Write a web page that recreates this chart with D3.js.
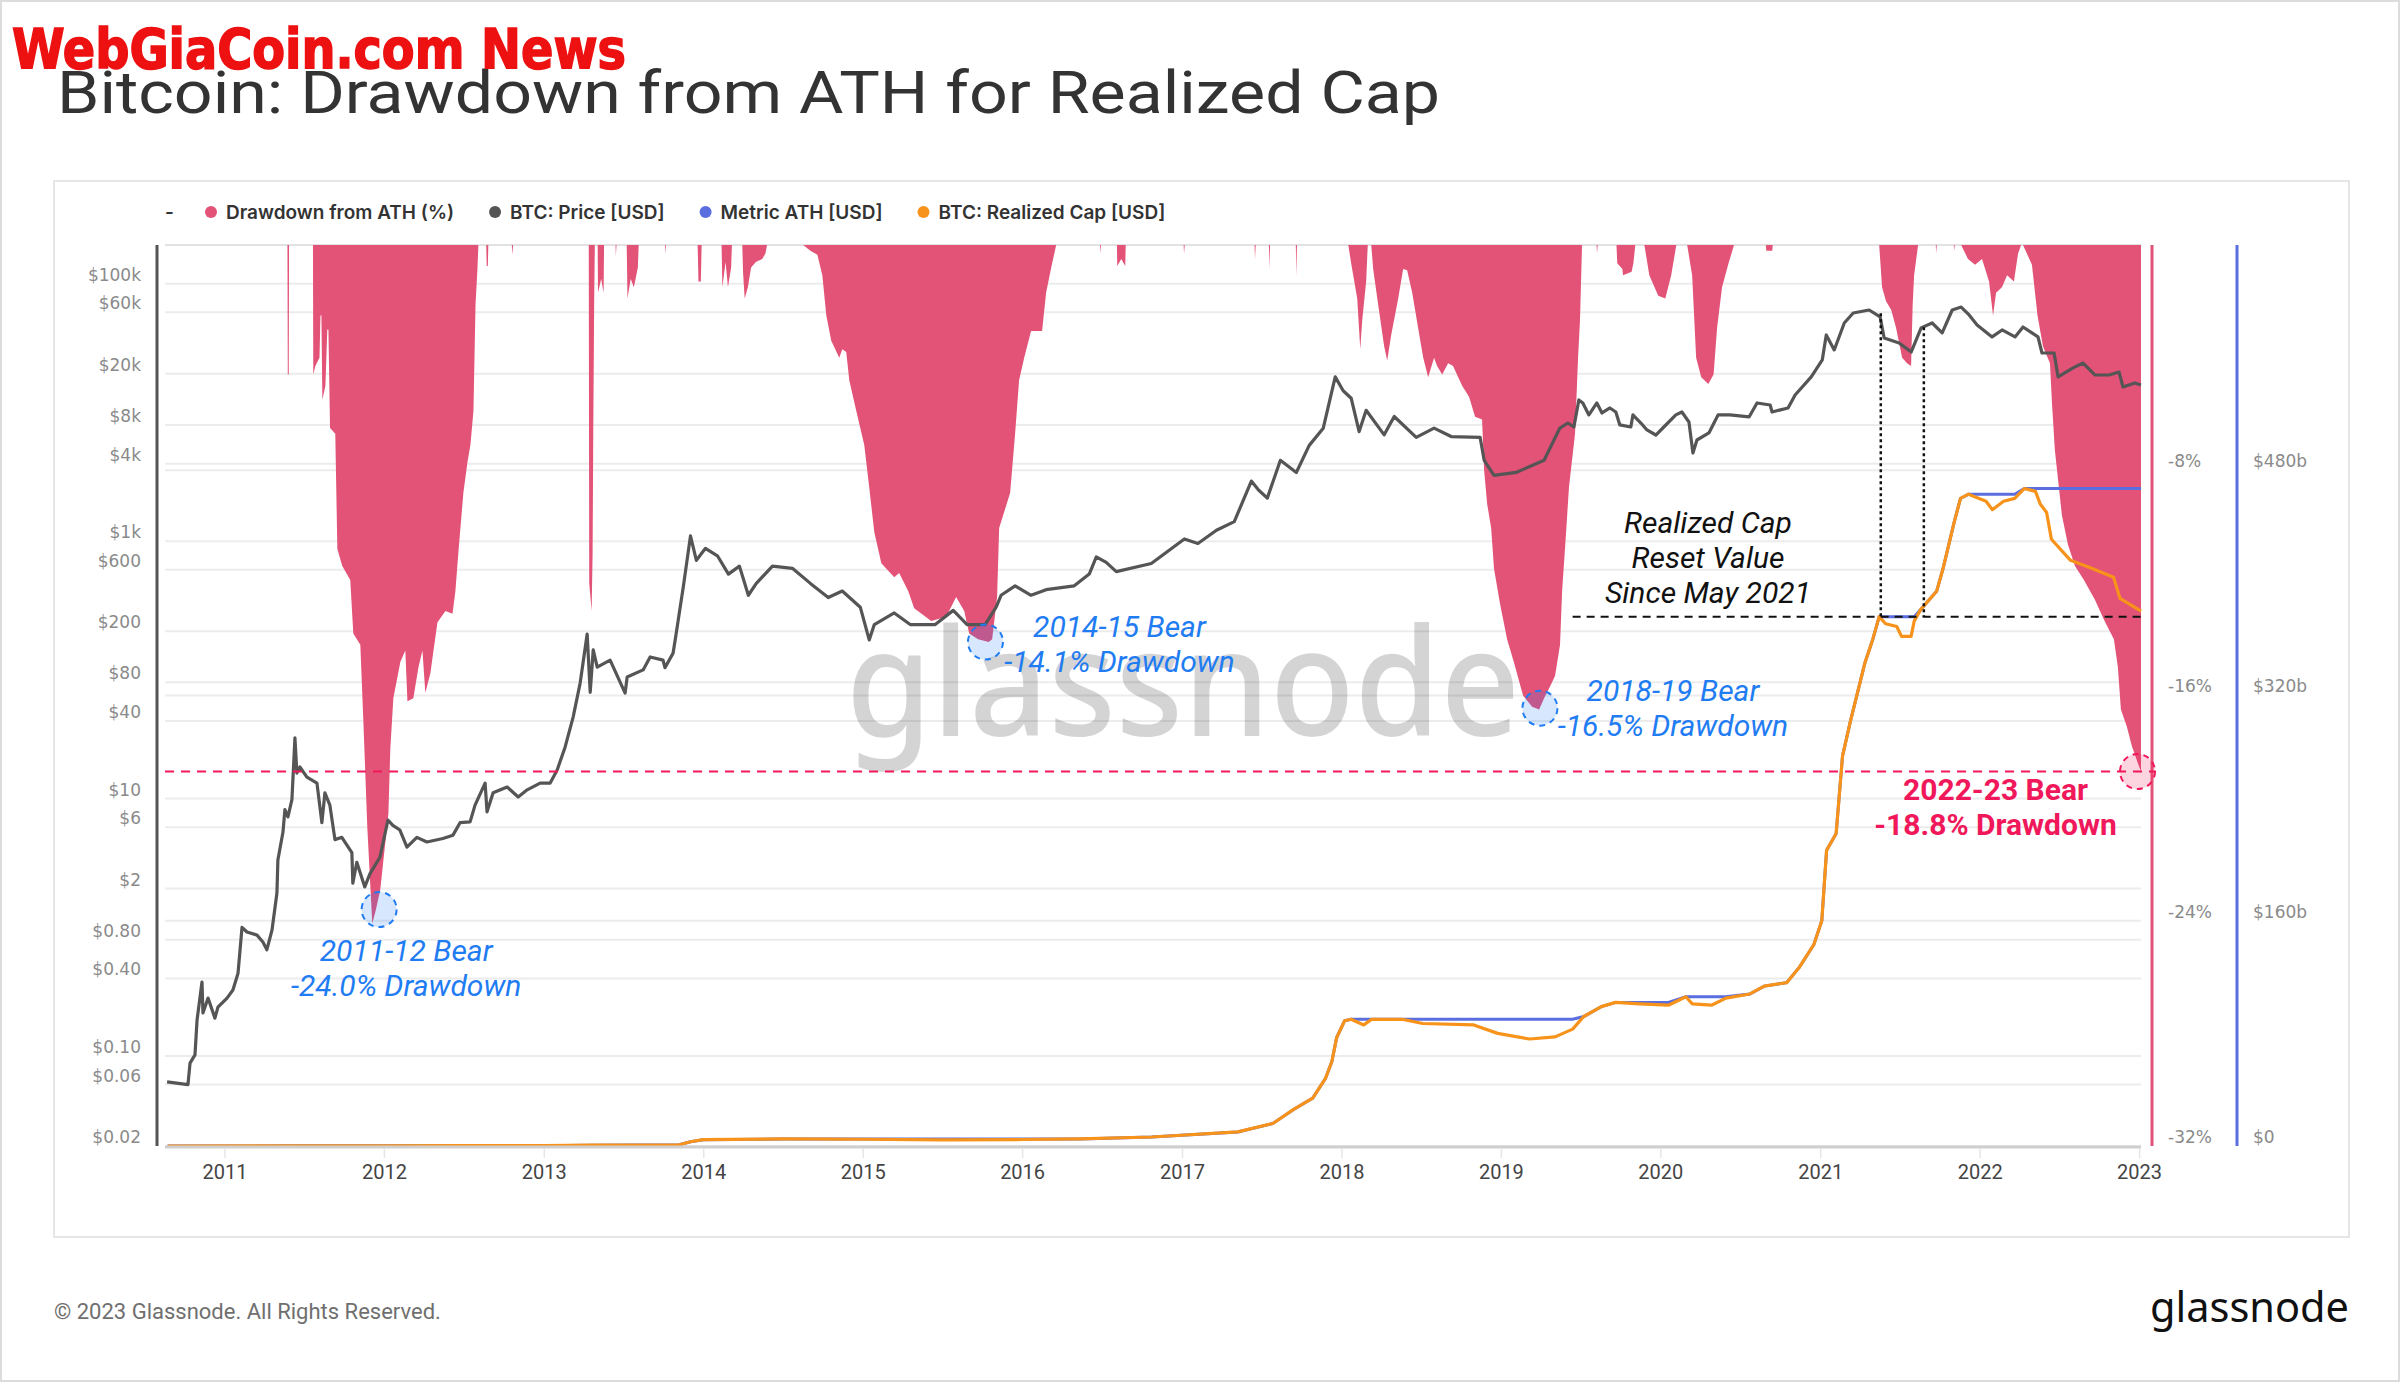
<!DOCTYPE html>
<html>
<head>
<meta charset="utf-8">
<script src="https://cdn.jsdelivr.net/npm/d3@7"></script>
<style>
  html,body{margin:0;padding:0;background:#fff;}
  svg{display:block;}
</style>
</head>
<body>
<svg id="chart" width="2400" height="1382"></svg>
<script>
// ---------------- DATA ----------------
const xTickYears = [2011,2012,2013,2014,2015,2016,2017,2018,2019,2020,2021,2022,2023];
const priceTicks = [100000,60000,20000,8000,4000,1000,600,200,80,40,10,6,2,0.8,0.4,0.1,0.06,0.02];
const priceTickLabels = ["$100k","$60k","$20k","$8k","$4k","$1k","$600","$200","$80","$40","$10","$6","$2","$0.80","$0.40","$0.10","$0.06","$0.02"];
const drawdownTicks = [-8,-16,-24,-32];
const drawdownTickLabels = ["-8%","-16%","-24%","-32%"];
const capTicks = [480,320,160,0];
const capTickLabels = ["$480b","$320b","$160b","$0"];
const legendLabels = ["Drawdown from ATH (%)","BTC: Price [USD]","Metric ATH [USD]","BTC: Realized Cap [USD]"];

// BTC price [decimal year, USD]
const priceSeries = [
[2010.640,0.063],[2010.771,0.060],[2010.784,0.088],[2010.815,0.102],[2010.828,0.19],[2010.859,0.376],[2010.865,0.216],
[2010.897,0.282],[2010.940,0.197],[2010.959,0.240],[2011.016,0.282],[2011.053,0.326],[2011.085,0.44],[2011.110,1.0],
[2011.141,0.92],[2011.204,0.87],[2011.241,0.77],[2011.266,0.67],[2011.298,0.95],[2011.329,1.85],[2011.335,3.33],
[2011.367,5.5],[2011.379,8.2],[2011.398,7.2],[2011.423,9.8],[2011.442,29.6],[2011.454,15.8],[2011.473,17.6],
[2011.517,14.7],[2011.580,13.2],[2011.611,6.5],[2011.630,11.1],[2011.661,8.9],[2011.693,4.8],[2011.736,5.0],
[2011.799,3.8],[2011.805,2.2],[2011.830,3.2],[2011.880,2.06],[2011.912,2.6],[2011.975,3.5],[2012.025,6.8],
[2012.056,6.2],[2012.100,5.7],[2012.144,4.2],[2012.206,5.0],[2012.269,4.6],[2012.369,4.9],[2012.432,5.2],
[2012.476,6.5],[2012.539,6.6],[2012.570,8.9],[2012.633,13.2],[2012.645,7.9],[2012.683,11.1],[2012.771,12.3],
[2012.840,10.3],[2012.896,11.7],[2012.977,13.2],[2013.040,13.2],[2013.084,16.7],[2013.134,25.2],[2013.184,43],
[2013.228,79],[2013.272,190],[2013.291,67],[2013.310,143],[2013.335,105],[2013.416,119],[2013.510,66],
[2013.523,88],[2013.623,100],[2013.667,126],[2013.748,119],[2013.760,104],[2013.811,135],[2013.826,177],
[2013.876,450],[2013.920,1100],[2013.957,710],[2014.014,880],
[2014.089,770],[2014.158,555],[2014.227,640],[2014.283,380],[2014.333,470],[2014.434,640],[2014.559,615],
[2014.672,470],[2014.784,365],[2014.872,410],[2014.985,307],[2015.041,171],[2015.073,225],[2015.198,277],
[2015.298,225],[2015.455,225],[2015.568,290],[2015.655,225],[2015.768,225],[2015.837,307],[2015.868,380],
[2015.956,450],[2016.056,380],[2016.150,420],[2016.326,450],[2016.420,555],[2016.464,755],[2016.526,685],
[2016.589,580],[2016.808,670],[2017.015,1040],[2017.100,960],[2017.216,1215],[2017.328,1420],[2017.435,2930],
[2017.480,2500],[2017.535,2160],
[2017.617,4250],[2017.717,3420],[2017.798,5550],[2017.886,7550],[2017.961,18900],[2018.011,14750],
[2018.061,12900],[2018.111,7100],[2018.155,10400],[2018.268,6700],[2018.331,9300],[2018.469,6400],
[2018.581,7550],[2018.688,6500],[2018.870,6400],[2018.895,4250],[2018.957,3250],[2019.095,3420],
[2019.271,4250],
[2019.370,7570],[2019.420,8280],[2019.458,7710],[2019.489,12500],[2019.514,11850],[2019.552,9570],[2019.602,11850],
[2019.634,9910],[2019.684,10840],[2019.721,10090],[2019.746,8000],[2019.815,7710],[2019.828,9570],[2019.878,8280],
[2019.916,7310],[2019.972,6680],[2020.022,7710],[2020.097,9570],[2020.135,10090],[2020.179,8430],[2020.204,4840],
[2020.229,6110],[2020.304,6930],[2020.361,9570],[2020.436,9570],[2020.555,9230],[2020.605,11850],[2020.687,11430],
[2020.699,10090],[2020.799,10840],[2020.843,13670],[2020.944,18880],[2021.013,25590],[2021.038,40000],
[2021.088,30600],[2021.151,49550],[2021.207,59290],[2021.307,62520],[2021.376,55200],[2021.401,37930],
[2021.495,34670],[2021.571,29510],[2021.633,45390],[2021.702,49550],[2021.765,41500],[2021.828,62520],
[2021.884,65920],[2021.934,57280],[2021.984,47860],[2022.078,38630],[2022.141,43750],[2022.222,38630],
[2022.272,46130],[2022.366,38630],[2022.391,28970],[2022.467,28970],[2022.492,18880],[2022.586,22180],
[2022.649,24210],[2022.724,19540],[2022.812,19540],[2022.874,20610],[2022.899,15780],[2022.974,16950],
[2023.012,16370]
];

// BTC realized cap [decimal year, $ billions]
const realizedCapSeries = [
[2010.643,0.0],[2011.45,0.1],[2012.0,0.15],[2012.5,0.2],[2013.0,0.25],[2013.3,0.6],[2013.85,0.9],[2013.92,3.0],
[2014.0,4.5],[2014.5,5.0],[2015.0,4.8],[2015.5,4.3],[2016.0,4.6],[2016.36,5.0],[2016.81,6.4],[2017.35,10],
[2017.57,16],[2017.70,26],[2017.82,34],[2017.90,48],[2017.94,60],[2017.97,77],[2018.02,89],[2018.06,90],
[2018.14,86],[2018.19,90],[2018.38,90],[2018.51,87],[2018.83,86],[2018.98,80],[2019.18,76],[2019.34,77.5],
[2019.45,83],[2019.52,92],[2019.63,99],[2019.72,102],[2019.87,101],[2020.05,100],[2020.16,106],[2020.20,101],
[2020.32,100],[2020.41,105],[2020.56,108],[2020.65,113.6],[2020.79,116],[2020.87,127],[2020.96,143],
[2021.01,160],[2021.04,210],[2021.10,222],[2021.14,277],[2021.19,302],[2021.28,343],[2021.33,360],
[2021.37,376],[2021.41,371],[2021.48,369],[2021.51,362],[2021.57,362],[2021.59,373],[2021.63,381],
[2021.73,394],[2021.77,410],[2021.84,443],[2021.88,460],[2021.93,463],[2022.04,458],[2022.08,452],
[2022.15,458],[2022.22,460],[2022.28,467],[2022.35,465],[2022.38,456],[2022.42,450],[2022.45,431],
[2022.57,416],[2022.71,410],[2022.84,404],[2022.88,389],[2023.012,380]
];

// Drawdown from ATH of realized cap [decimal year, %]
const drawdownSeries = [
[2010.627,0],
[2011.395,0],[2011.397,-4.6],[2011.403,-4.6],[2011.405,0],
[2011.555,0],[2011.557,-4.6],[2011.570,-4.3],[2011.596,-4.0],[2011.602,-2.5],[2011.608,-2.5],[2011.614,-5.5],
[2011.633,-5.0],[2011.645,-3.0],[2011.652,-3.0],[2011.662,-6.5],[2011.695,-6.7],[2011.708,-10.8],[2011.739,-11.4],
[2011.789,-11.9],[2011.808,-13.8],[2011.852,-14.2],[2011.871,-16.9],[2011.896,-20.7],[2011.927,-24.1],
[2011.950,-23.6],[2011.977,-22.9],[2012.028,-20.2],[2012.040,-17.9],[2012.059,-16.1],[2012.103,-14.8],
[2012.134,-14.4],[2012.147,-16.2],[2012.184,-16.1],[2012.216,-15.0],[2012.241,-14.4],[2012.259,-15.9],
[2012.291,-15.2],[2012.310,-14.4],[2012.335,-13.4],[2012.385,-13.0],[2012.429,-13.1],[2012.447,-12.3],
[2012.466,-10.9],[2012.497,-8.8],[2012.523,-7.7],[2012.541,-7.1],[2012.560,-5.9],[2012.573,-2.1],
[2012.585,-0.85],[2012.591,0],
[2012.640,0],[2012.643,-0.75],[2012.650,-0.75],[2012.653,0],
[2012.800,0],[2012.803,-0.35],[2012.808,0],
[2013.282,0],[2013.285,-12.0],[2013.300,-13.0],[2013.306,-11.0],[2013.310,-6.9],[2013.316,-2.0],[2013.320,0],
[2013.338,0],[2013.340,-1.7],[2013.360,-1.2],[2013.375,-1.7],[2013.378,0],
[2013.450,0],[2013.452,-0.4],[2013.456,0],
[2013.520,0],[2013.525,-1.9],[2013.545,-1.2],[2013.565,-1.5],[2013.590,-0.8],[2013.595,0],
[2013.760,0],[2013.762,-0.3],[2013.766,0],
[2013.965,0],[2013.970,-1.3],[2013.985,-1.3],[2013.990,0],
[2014.115,0],[2014.120,-1.5],[2014.140,-0.6],[2014.155,-1.5],[2014.175,-0.8],[2014.180,0],
[2014.245,0],[2014.250,-1.0],[2014.260,-1.9],[2014.280,-1.5],[2014.300,-0.8],[2014.330,-0.6],[2014.370,-0.5],
[2014.390,-0.3],[2014.400,0],
[2014.627,0],[2014.672,-0.2],[2014.716,-0.35],[2014.747,-1.07],[2014.772,-2.5],[2014.803,-3.4],[2014.853,-4.0],
[2014.872,-3.7],[2014.897,-3.8],[2014.916,-4.8],[2014.960,-5.9],[2015.010,-7.1],[2015.041,-8.6],[2015.073,-10.2],
[2015.117,-11.3],[2015.198,-11.8],[2015.229,-11.65],[2015.286,-12.3],[2015.323,-12.9],[2015.430,-13.35],
[2015.524,-13.2],[2015.586,-12.5],[2015.637,-13.0],[2015.668,-13.8],[2015.724,-14.0],[2015.790,-14.1],
[2015.812,-14.0],[2015.843,-12.5],[2015.856,-10.05],[2015.881,-9.6],[2015.925,-8.8],[2015.956,-6.7],
[2015.981,-4.8],[2016.013,-4.0],[2016.056,-3.05],[2016.125,-3.05],[2016.150,-1.7],[2016.182,-0.8],[2016.213,0],
[2016.487,0],[2016.489,-0.3],[2016.493,0],
[2016.593,0],[2016.595,-0.75],[2016.620,-0.5],[2016.645,-0.75],[2016.648,0],
[2017.010,0],[2017.013,-0.3],[2017.017,0],
[2017.455,0],[2017.458,-0.5],[2017.462,0],
[2017.545,0],[2017.548,-0.85],[2017.552,0],
[2017.714,0],[2017.717,-1.1],[2017.721,0],
[2018.043,0],[2018.061,-0.65],[2018.099,-1.9],[2018.118,-3.7],[2018.130,-2.7],[2018.155,-1.3],[2018.165,0],
[2018.187,0],[2018.199,-0.85],[2018.230,-2.1],[2018.268,-3.6],[2018.287,-4.1],[2018.312,-3.2],[2018.356,-1.9],
[2018.387,-0.85],[2018.412,-0.9],[2018.444,-1.7],[2018.481,-2.95],[2018.513,-4.0],[2018.544,-4.7],[2018.581,-4.0],
[2018.600,-4.3],[2018.632,-4.6],[2018.669,-4.2],[2018.700,-4.3],[2018.757,-5.0],[2018.801,-5.4],[2018.838,-6.1],
[2018.882,-6.2],[2018.895,-8.0],[2018.914,-9.2],[2018.939,-10.05],[2018.957,-11.5],[2018.995,-12.75],
[2019.039,-14.0],[2019.083,-14.85],[2019.139,-16.0],[2019.196,-16.4],[2019.240,-16.5],[2019.271,-16.1],
[2019.315,-15.6],[2019.340,-15.3],[2019.371,-14.2],[2019.384,-12.3],[2019.409,-10.2],[2019.427,-8.6],
[2019.465,-6.7],[2019.484,-4.0],[2019.496,-2.7],[2019.509,0],
[2019.600,0],[2019.603,-0.3],[2019.607,0],
[2019.725,0],[2019.730,-0.65],[2019.762,-0.85],[2019.766,-1.07],[2019.820,-0.95],[2019.831,-0.65],[2019.843,0],
[2019.900,0],[2019.931,-1.07],[2019.987,-1.8],[2020.031,-1.9],[2020.068,-1.07],[2020.100,0],
[2020.168,0],[2020.199,-1.07],[2020.224,-4.0],[2020.256,-4.7],[2020.300,-4.94],[2020.333,-4.6],[2020.355,-2.95],
[2020.386,-1.5],[2020.424,-0.7],[2020.461,0],
[2020.660,0],[2020.663,-0.2],[2020.700,-0.2],[2020.703,0],
[2021.370,0],[2021.388,-1.5],[2021.413,-2.0],[2021.445,-2.3],[2021.476,-2.95],[2021.514,-4.0],[2021.545,-4.2],
[2021.570,-4.3],[2021.580,-2.1],[2021.589,-1.07],[2021.614,0],
[2021.725,0],[2021.727,-0.3],[2021.731,0],
[2021.838,0],[2021.840,-0.2],[2021.844,0],
[2021.884,0],[2021.927,-0.5],[2021.971,-0.7],[2022.015,-0.5],[2022.059,-1.3],[2022.084,-2.5],[2022.103,-1.7],
[2022.140,-1.5],[2022.172,-1.07],[2022.215,-1.3],[2022.241,-0.3],[2022.260,0],
[2022.272,0],[2022.328,-0.7],[2022.363,-2.5],[2022.397,-3.6],[2022.441,-4.2],[2022.454,-5.65],[2022.472,-7.3],
[2022.497,-8.6],[2022.516,-9.6],[2022.554,-10.65],[2022.598,-11.4],[2022.654,-11.9],[2022.723,-12.6],
[2022.779,-13.3],[2022.842,-14.0],[2022.867,-15.0],[2022.886,-16.5],[2022.923,-17.1],[2022.955,-17.8],
[2022.992,-18.4],[2023.012,-18.7]
];

// Bear market drawdown lows (annotations)
const bearLabels = ["2011-12 Bear","2014-15 Bear","2018-19 Bear","2022-23 Bear"];
const bearDrawdownLabels = ["-24.0% Drawdown","-14.1% Drawdown","-16.5% Drawdown","-18.8% Drawdown"];
const bearLowDates = [2011.97, 2015.77, 2019.245, 2022.99];
const bearLowValues = [-23.6, -14.1, -16.45, -18.7];
const currentLevel = -18.7;

// Realized cap reset annotation
const resetLines = ["Realized Cap","Reset Value","Since May 2021"];
const resetValue = 376;             // $b
const resetStartDate = 2019.45;
const resetWindowDates = [2021.38, 2021.65];
const resetWindowPrices = [59000, 46000];
const resetEndDate = 2023.012;

// ---------------- LAYOUT / STYLE ----------------
const W = 2400, H = 1382;
const P = {left:165, right:2141, top:245, bottom:1146};
const C = {
  dd:"#e35277", price:"#555555", ath:"#5a6ee0", cap:"#f7931a",
  red:"#f0185a", blue:"#1f7cf2", grid:"#ececec", tick:"#8a8a8a"
};
const legendColors = [C.dd, C.price, C.ath, C.cap];
const bearOffsets = [[27,41],[134,-16],[133,-18],[-142,18]];
const bearColors = [C.blue, C.blue, C.blue, C.red];

const fy = y => { const yr = Math.floor(y); const a = Date.UTC(yr,0,1), b = Date.UTC(yr+1,0,1); return new Date(a + (y-yr)*(b-a)); };

const x = d3.scaleUtc().domain([fy(2010.627), fy(2023.012)]).range([P.left, P.right]);
const yPrice = d3.scaleLog().domain([0.02, 200000]).range([P.bottom, P.top]);
const yDD = d3.scaleLinear().domain([-32, 0]).range([P.bottom, P.top]);
const yCap = d3.scaleLinear().domain([0, 640]).range([P.bottom, P.top]);

const svg = d3.select("#chart");
const SANS = "Roboto, 'Liberation Sans', Arial, sans-serif";
const TICKF = "'DejaVu Sans', Verdana, sans-serif";

// page + card
svg.append("rect").attr("x",1).attr("y",1).attr("width",W-2).attr("height",H-2)
  .attr("fill","#fff").attr("stroke","#dcdcdc").attr("stroke-width",2);
svg.append("rect").attr("x",54).attr("y",181).attr("width",2295).attr("height",1056)
  .attr("fill","#fff").attr("stroke","#e6e6e6").attr("stroke-width",2);

// title
svg.append("text").attr("x",57).attr("y",113).attr("font-family",SANS).attr("font-size",60)
  .attr("fill","#333").attr("textLength",1383).attr("lengthAdjust","spacingAndGlyphs")
  .text("Bitcoin: Drawdown from ATH for Realized Cap");
// site watermark
svg.append("text").attr("x",12).attr("y",68).attr("font-family","'Liberation Sans Narrow','DejaVu Sans Condensed','Liberation Sans',sans-serif")
  .attr("font-weight",700).attr("font-size",56).attr("fill","#ee1111").attr("stroke","#ee1111").attr("stroke-width",1.5)
  .attr("textLength",614).attr("lengthAdjust","spacingAndGlyphs")
  .text("WebGiaCoin.com News");

// legend
const lg = svg.append("g").attr("font-family","Inter, Roboto, sans-serif").attr("font-size",19).attr("font-weight",600).attr("fill","#333");
lg.append("text").attr("x",165).attr("y",212).attr("dominant-baseline","central").text("-");
let lx = 211;
legendLabels.forEach((lab,i) => {
  lg.append("circle").attr("cx",lx).attr("cy",212).attr("r",6).attr("fill",legendColors[i]);
  const t = lg.append("text").attr("x",lx+15).attr("y",212).attr("dominant-baseline","central").text(lab);
  lx = lx + 15 + t.node().getComputedTextLength() + 41;
});

// plot top border
svg.append("line").attr("x1",P.left).attr("x2",P.right).attr("y1",P.top).attr("y2",P.top)
  .attr("stroke","#e2e2e2").attr("stroke-width",2);

// gridlines
const grid = svg.append("g");
grid.selectAll("line.gp").data(priceTicks).join("line")
  .attr("x1",P.left).attr("x2",P.right).attr("y1",d=>yPrice(d)).attr("y2",d=>yPrice(d))
  .attr("stroke",C.grid).attr("stroke-width",2);
grid.selectAll("line.gd").data(drawdownTicks).join("line")
  .attr("x1",P.left).attr("x2",P.right).attr("y1",d=>yDD(d)).attr("y2",d=>yDD(d))
  .attr("stroke",C.grid).attr("stroke-width",2);

// glassnode watermark
svg.append("text").attr("x",1183).attr("y",736).attr("text-anchor","middle")
  .attr("font-family","'Noto Sans', 'Open Sans', sans-serif").attr("font-weight",500).attr("font-size",150)
  .attr("fill","#000").attr("fill-opacity",0.17).attr("textLength",674).attr("lengthAdjust","spacingAndGlyphs")
  .text("glassnode");

// drawdown area
const area = d3.area().x(d=>x(fy(d[0]))).y0(yDD(0)).y1(d=>yDD(d[1]));
svg.append("path").datum(drawdownSeries).attr("d",area).attr("fill",C.dd);

// price line
const priceLine = d3.line().x(d=>x(fy(d[0]))).y(d=>yPrice(d[1]));
svg.append("path").datum(priceSeries).attr("d",priceLine).attr("fill","none")
  .attr("stroke",C.price).attr("stroke-width",3.2).attr("stroke-linejoin","round");

// metric ATH (running max of realized cap)
let runMax = -Infinity;
const athSeries = realizedCapSeries.map(d => [d[0], (runMax = Math.max(runMax, d[1]))]);
const capLine = d3.line().x(d=>x(fy(d[0]))).y(d=>yCap(d[1]));
svg.append("path").datum(athSeries).attr("d",capLine).attr("fill","none")
  .attr("stroke",C.ath).attr("stroke-width",3);
svg.append("path").datum(realizedCapSeries).attr("d",capLine).attr("fill","none")
  .attr("stroke",C.cap).attr("stroke-width",3.2).attr("stroke-linejoin","round");

// axes lines
svg.append("line").attr("x1",157).attr("x2",157).attr("y1",P.top).attr("y2",P.bottom).attr("stroke","#555").attr("stroke-width",3);
svg.append("line").attr("x1",2152).attr("x2",2152).attr("y1",P.top).attr("y2",P.bottom).attr("stroke",C.dd).attr("stroke-width",3);
svg.append("line").attr("x1",2237).attr("x2",2237).attr("y1",P.top).attr("y2",P.bottom).attr("stroke",C.ath).attr("stroke-width",3);

// left axis
const axL = svg.append("g").attr("transform","translate(157,0)")
  .call(d3.axisLeft(yPrice).tickValues(priceTicks).tickFormat((d,i)=>priceTickLabels[i]).tickSize(0).tickPadding(16));
// right axes
const axR1 = svg.append("g").attr("transform","translate(2152,0)")
  .call(d3.axisRight(yDD).tickValues(drawdownTicks).tickFormat((d,i)=>drawdownTickLabels[i]).tickSize(0).tickPadding(16));
const axR2 = svg.append("g").attr("transform","translate(2237,0)")
  .call(d3.axisRight(yCap).tickValues(capTicks).tickFormat((d,i)=>capTickLabels[i]).tickSize(0).tickPadding(16));
[axL,axR1,axR2].forEach(a => {
  a.select(".domain").remove();
  a.selectAll("text").attr("y",-9).attr("font-family",TICKF).attr("font-size",17).attr("fill",C.tick);
});

// bottom axis
svg.append("line").attr("x1",P.left).attr("x2",P.right).attr("y1",P.bottom+1).attr("y2",P.bottom+1)
  .attr("stroke","#cfcfcf").attr("stroke-width",3);
const axB = svg.append("g").attr("transform",`translate(0,${P.bottom+2})`)
  .call(d3.axisBottom(x).tickValues(xTickYears.map(fy)).tickFormat(d3.utcFormat("%Y")).tickSize(10));
axB.select(".domain").remove();
axB.selectAll("line").attr("stroke","#e6e6e6").attr("stroke-width",1.5);
axB.selectAll("text").attr("y",24).attr("dy","0.35em").attr("font-family",SANS).attr("font-size",20).attr("fill","#444");

// red dashed current level
svg.append("line").attr("x1",P.left).attr("x2",2156).attr("y1",yDD(currentLevel)).attr("y2",yDD(currentLevel))
  .attr("stroke",C.red).attr("stroke-width",2).attr("stroke-dasharray","9,7");

// realized cap reset annotation
const yReset = yCap(resetValue);
svg.append("line").attr("x1",x(fy(resetStartDate))).attr("x2",x(fy(resetEndDate))).attr("y1",yReset).attr("y2",yReset)
  .attr("stroke","#111").attr("stroke-width",2).attr("stroke-dasharray","8,6");
resetWindowDates.forEach((d,i) => {
  svg.append("line").attr("x1",x(fy(d))).attr("x2",x(fy(d))).attr("y1",yPrice(resetWindowPrices[i])).attr("y2",yReset)
    .attr("stroke","#111").attr("stroke-width",2.5).attr("stroke-dasharray","3,3");
});
resetLines.forEach((t,i) => {
  svg.append("text").attr("x",1708).attr("y",522 + i*35).attr("text-anchor","middle").attr("dominant-baseline","central")
    .attr("font-family",SANS).attr("font-style","italic").attr("font-size",30).attr("fill","#111").text(t);
});

// bear lows
bearLabels.forEach((lab,i) => {
  const cx = x(fy(bearLowDates[i])), cy = yDD(bearLowValues[i]);
  const col = bearColors[i];
  svg.append("circle").attr("cx",cx).attr("cy",cy).attr("r",17.5)
    .attr("fill",col).attr("fill-opacity",0.18).attr("stroke",col).attr("stroke-width",2).attr("stroke-dasharray","6,5");
  const tx = cx + bearOffsets[i][0], ty = cy + bearOffsets[i][1];
  const bold = i === 3;
  [lab, bearDrawdownLabels[i]].forEach((t,j) => {
    svg.append("text").attr("x",tx).attr("y",ty + j*35).attr("text-anchor","middle").attr("dominant-baseline","central")
      .attr("font-family",SANS).attr("font-style",bold?"normal":"italic").attr("font-weight",bold?700:400)
      .attr("font-size",30).attr("fill",col).text(t);
  });
});

// footer
svg.append("text").attr("x",54).attr("y",1311).attr("dominant-baseline","central").attr("font-family",SANS)
  .attr("font-size",22).attr("fill","#6f6f6f").text("© 2023 Glassnode. All Rights Reserved.");
svg.append("text").attr("x",2349).attr("y",1322).attr("text-anchor","end").attr("font-family","'Noto Sans', 'Open Sans', sans-serif")
  .attr("font-size",42).attr("fill","#111").attr("textLength",199).attr("lengthAdjust","spacingAndGlyphs").text("glassnode");
</script>
</body>
</html>
